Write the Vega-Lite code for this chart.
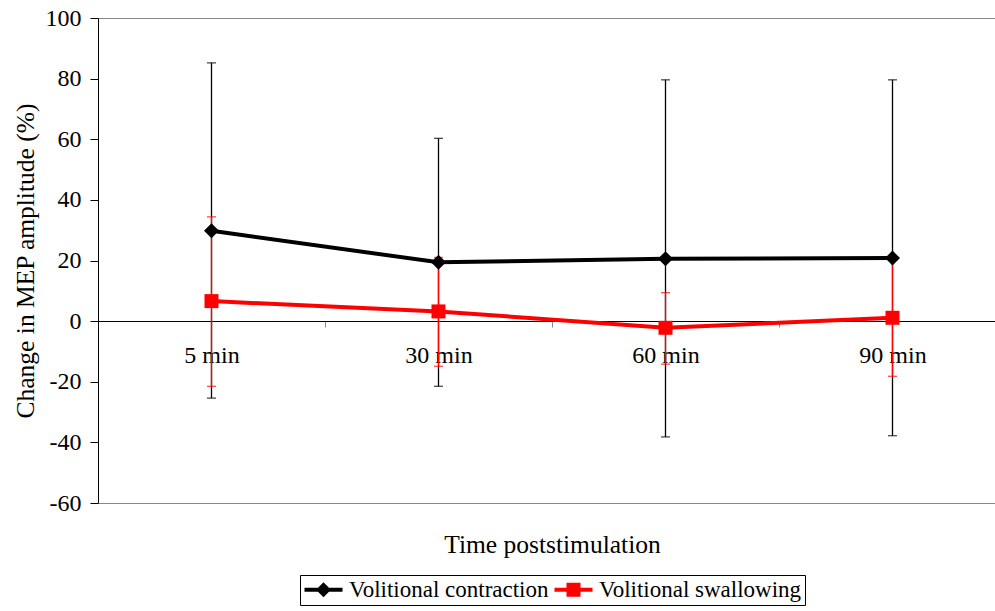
{
  "$schema": "https://vega.github.io/schema/vega-lite/v6.json",
  "width": 897,
  "height": 485,
  "autosize": "none",
  "padding": {"left": 98, "top": 18, "right": 0, "bottom": 108},
  "background": "white",
  "config": {
    "view": {"stroke": null},
    "font": "Liberation Serif",
    "axis": {"labelFont": "Liberation Serif", "titleFont": "Liberation Serif"},
    "legend": {"labelFont": "Liberation Serif"}
  },
  "data": {"values": [
    {"time": "5 min", "series": "Volitional contraction", "mean": 29.8, "lo": -25.4, "hi": 85.2},
    {"time": "30 min", "series": "Volitional contraction", "mean": 19.4, "lo": -21.5, "hi": 60.3},
    {"time": "60 min", "series": "Volitional contraction", "mean": 20.6, "lo": -38.2, "hi": 79.6},
    {"time": "90 min", "series": "Volitional contraction", "mean": 20.8, "lo": -37.8, "hi": 79.6},
    {"time": "5 min", "series": "Volitional swallowing", "mean": 6.6, "lo": -21.5, "hi": 34.4},
    {"time": "30 min", "series": "Volitional swallowing", "mean": 3.2, "lo": -14.9, "hi": 21.0},
    {"time": "60 min", "series": "Volitional swallowing", "mean": -2.2, "lo": -14.2, "hi": 9.4},
    {"time": "90 min", "series": "Volitional swallowing", "mean": 1.1, "lo": -18.2, "hi": 20.6}
  ]},
  "encoding": {
    "x": {
      "field": "time", "type": "nominal",
      "sort": ["5 min", "30 min", "60 min", "90 min"],
      "scale": {"range": [0, 908], "paddingInner": 0, "paddingOuter": 0},
      "axis": {
        "title": "Time poststimulation", "orient": "bottom", "offset": -182,
        "domainColor": "black", "domainWidth": 1,
        "tickBand": "extent", "tickColor": "#888", "tickSize": 6, "tickWidth": 1,
        "labelAngle": 0, "labelFontSize": 24, "labelColor": "black", "labelPadding": 16,
        "labelFont": "Liberation Serif",
        "titleFont": "Liberation Serif", "titleFontSize": 25.5, "titleFontWeight": "normal",
        "titleColor": "black", "titlePadding": 165
      }
    },
    "color": {
      "field": "series", "type": "nominal",
      "scale": {"domain": ["Volitional contraction", "Volitional swallowing"], "range": ["#000000", "#ff0000"]},
      "legend": {
        "title": null, "orient": "none", "legendX": 202, "legendY": 557,
        "direction": "horizontal", "columns": 2,
        "strokeColor": "black", "fillColor": "white", "padding": 3, "cornerRadius": 0,
        "labelFont": "Liberation Serif", "labelFontSize": 23, "labelColor": "black", "labelLimit": 500,
        "symbolSize": 400, "labelOffset": 23, "columnPadding": 4,
        "encode": {
          "symbols": {
            "update": {
              "shape": {"signal": "datum.value === 'Volitional contraction' ? 'M-1,-0.2H2.8V0.2H-1Z M0.9,-0.75L1.65,0L0.9,0.75L0.15,0Z' : 'M-1,-0.2H2.8V0.2H-1Z M0.2,-0.7H1.6V0.7H0.2Z'"},
              "fill": {"signal": "datum.value === 'Volitional contraction' ? '#000000' : '#ff0000'"},
              "stroke": {"value": "transparent"},
              "strokeWidth": {"value": 0},
              "opacity": {"value": 1},
              "fillOpacity": {"value": 1}
            }
          }
        }
      }
    }
  },
  "layer": [
    {
      "mark": {"type": "rule", "strokeWidth": 1.3},
      "encoding": {
        "y": {
          "field": "lo", "type": "quantitative",
          "scale": {"domain": [-60, 100], "nice": false, "zero": false},
          "axis": {
            "title": "Change in MEP amplitude (%)",
            "values": [-60, -40, -20, 0, 20, 40, 60, 80, 100],
            "labelExpr": "'' + datum.value",
            "domainColor": "black", "tickColor": "black", "tickSize": 8,
            "labelFont": "Liberation Serif", "labelFontSize": 24, "labelColor": "black", "labelPadding": 9,
            "titleFont": "Liberation Serif", "titleFontSize": 25.5, "titleFontWeight": "normal",
            "titleColor": "black", "titlePadding": 7,
            "grid": true, "gridColor": "#888", "gridWidth": 1,
            "gridOpacity": {"condition": {"test": "datum.value == 100 || datum.value == -60", "value": 1}, "value": 0}
          }
        },
        "y2": {"field": "hi"}
      }
    },
    {
      "mark": {"type": "tick", "thickness": 1.3, "size": 9},
      "encoding": {"y": {"field": "lo", "type": "quantitative"}}
    },
    {
      "mark": {"type": "tick", "thickness": 1.3, "size": 9},
      "encoding": {"y": {"field": "hi", "type": "quantitative"}}
    },
    {
      "mark": {"type": "line", "strokeWidth": 4},
      "encoding": {"y": {"field": "mean", "type": "quantitative"}}
    },
    {
      "transform": [{"filter": "datum.series === 'Volitional contraction'"}],
      "mark": {"type": "point", "filled": true, "opacity": 1, "size": 225, "shape": "diamond"},
      "encoding": {"y": {"field": "mean", "type": "quantitative"}}
    },
    {
      "transform": [{"filter": "datum.series === 'Volitional swallowing'"}],
      "mark": {"type": "point", "filled": true, "opacity": 1, "size": 196, "shape": "square"},
      "encoding": {"y": {"field": "mean", "type": "quantitative"}}
    }
  ]
}
